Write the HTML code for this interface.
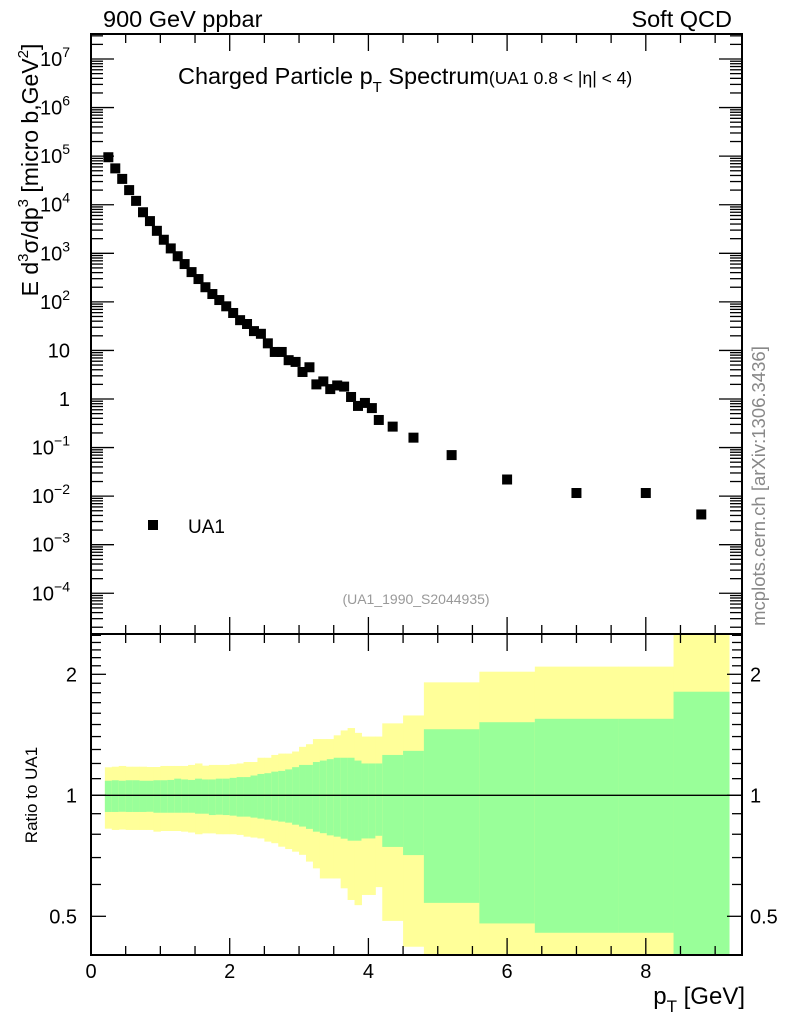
<!DOCTYPE html>
<html><head><meta charset="utf-8"><style>
body{margin:0;background:#fff;width:786px;height:1024px;overflow:hidden}
svg{display:block;font-family:"Liberation Sans",sans-serif}
</style></head><body>
<svg id="c" width="786" height="1024" viewBox="0 0 786 1024"></svg>
<script>
const binEdges=[0.2,0.3,0.4,0.5,0.6,0.7,0.8,0.9,1.0,1.1,1.2,1.3,1.4,1.5,1.6,1.7,1.8,1.9,2.0,2.1,2.2,2.3,2.4,2.5,2.6,2.7,2.8,2.9,3.0,3.1,3.2,3.3,3.4,3.5,3.6,3.7,3.8,3.9,4.0,4.1,4.2,4.5,4.8,5.6,6.4,7.6,8.4,9.2];
const ptX=[0.25,0.35,0.45,0.55,0.65,0.75,0.85,0.95,1.05,1.15,1.25,1.35,1.45,1.55,1.65,1.75,1.85,1.95,2.05,2.15,2.25,2.35,2.45,2.55,2.65,2.75,2.85,2.95,3.05,3.15,3.25,3.35,3.45,3.55,3.65,3.75,3.85,3.95,4.05,4.15,4.35,4.65,5.2,6.0,7.0,8.0,8.8];
const ua1Values=[95000,56000,34000,20000,12000,7000,4600,2900,1900,1260,870,600,410,295,200,145,109,81,59,42,35,25,22,14,9.3,9.3,6.3,5.8,3.6,4.5,2.0,2.3,1.6,1.9,1.8,1.1,0.72,0.83,0.65,0.37,0.27,0.16,0.07,0.022,0.0116,0.0116,0.0042];
const totUp=[1.174,1.178,1.183,1.178,1.178,1.178,1.176,1.176,1.183,1.183,1.183,1.183,1.19,1.2,1.185,1.19,1.19,1.19,1.195,1.2,1.21,1.21,1.24,1.24,1.26,1.27,1.27,1.285,1.32,1.34,1.38,1.38,1.38,1.41,1.45,1.47,1.43,1.40,1.40,1.40,1.51,1.58,1.91,2.03,2.09,2.09,3.0];
const totDn=[0.826,0.82,0.822,0.82,0.82,0.82,0.82,0.812,0.815,0.815,0.815,0.812,0.808,0.80,0.804,0.804,0.80,0.80,0.80,0.797,0.789,0.785,0.781,0.767,0.76,0.745,0.735,0.724,0.711,0.684,0.658,0.621,0.621,0.621,0.587,0.549,0.533,0.565,0.565,0.591,0.487,0.42,0.3,0.3,0.3,0.3,0.3];
const statUp=[1.087,1.09,1.087,1.09,1.09,1.087,1.087,1.09,1.09,1.092,1.10,1.095,1.092,1.10,1.095,1.095,1.10,1.10,1.105,1.11,1.11,1.12,1.13,1.135,1.145,1.15,1.16,1.175,1.19,1.19,1.21,1.22,1.23,1.24,1.24,1.24,1.22,1.20,1.20,1.20,1.26,1.29,1.46,1.52,1.55,1.55,1.81];
const statDn=[0.909,0.909,0.91,0.909,0.909,0.909,0.91,0.905,0.905,0.905,0.905,0.905,0.905,0.9,0.9,0.893,0.895,0.893,0.89,0.885,0.885,0.88,0.875,0.87,0.865,0.86,0.855,0.845,0.836,0.825,0.812,0.805,0.795,0.789,0.78,0.771,0.771,0.781,0.781,0.793,0.744,0.71,0.54,0.48,0.455,0.455,0.3];
const xTicks=[0,2,4,6,8];
const yDecades=[7,6,5,4,3,2,1,0,-1,-2,-3,-4];
const rTicks=[0.5,1,2];

const NS="http://www.w3.org/2000/svg", svg=document.getElementById('c');
function el(t,a,p){const e=document.createElementNS(NS,t);for(const k in a)e.setAttribute(k,a[k]);(p||svg).appendChild(e);return e;}
const L=91,R=742,T=34,MB=634,RB=955;
const X=v=>L+v*69.35;
const Y=v=>399-Math.log10(v)*48.57;
const RY=v=>795.3-Math.log2(v)*121;

const gB=el('g',{});  
const cp=el('clipPath',{id:'rc'}); el('rect',{x:L,y:MB,width:R-L,height:RB-MB},cp);
gB.setAttribute('clip-path','url(#rc)');
for(let i=0;i<ptX.length;i++){
  const x0=X(binEdges[i]),x1=X(binEdges[i+1]);
  const y1=el('rect',{x:x0,y:RY(totUp[i]),width:x1-x0+0.5,height:RY(totDn[i])-RY(totUp[i]),fill:'#ffff99'},gB);
  
  
  const g1=el('rect',{x:x0,y:RY(statUp[i]),width:x1-x0+0.5,height:RY(statDn[i])-RY(statUp[i]),fill:'#99ff99'},gB);
  
  
}
const one=el('line',{x1:L,x2:R,y1:RY(1),y2:RY(1),stroke:'#000','stroke-width':1.3});
 

for(let i=0;i<ptX.length;i++){
  const m=el('rect',{x:X(ptX[i])-5,y:Y(ua1Values[i])-5,width:10,height:10,fill:'#000'});
   
}

for(const [y0,y1,nm] of [[T,MB,'main-frame'],[MB,RB,'ratio-frame']]){
  const f=el('rect',{x:L,y:y0,width:R-L,height:y1-y0,fill:'none',stroke:'#000','stroke-width':2});
   
}
const tg=el('g',{stroke:'#000','stroke-width':1.3});
for(let v=0;v<=9.3;v+=0.5){
  const maj=Math.abs(v%2)<1e-6, x=X(v), l=maj?17:9;
  for(const [yb,dir] of [[T,1],[MB,-1],[MB,1],[RB,-1]]) el('line',{x1:x,x2:x,y1:yb,y2:yb+dir*l},tg);
}
xTicks.forEach(v=>{const t=el('text',{x:X(v),y:978,'font-size':20,'text-anchor':'middle'});t.textContent=v;
});
const lo=-4.88,hi=7.52;
for(let d=-5;d<=7;d++){for(let m=1;m<10;m++){const lv=d+Math.log10(m);if(lv<lo||lv>hi)continue;
 const y=399-lv*48.57,l=m==1?23:12;
 el('line',{x1:L,x2:L+l,y1:y,y2:y},tg);el('line',{x1:R,x2:R-l,y1:y,y2:y},tg);}}
yDecades.forEach(d=>{const y=399-d*48.57;const t=el('text',{x:70,y:y+7,'font-size':20,'text-anchor':'end'});
 if(d===1)t.textContent='10';else if(d===0)t.textContent='1';else{t.textContent='10';const s=el('tspan',{dy:-9,'font-size':14},t);s.textContent=(d<0?'\u2212':'')+Math.abs(d);}
 });
for(let v=0.4;v<=2.55;v+=0.1){const y=RY(v);if(y<MB||y>RB)continue;
 const maj=[0.5,1,2].some(q=>Math.abs(q-v)<1e-6),l=maj?15:10;
 el('line',{x1:L,x2:L+l,y1:y,y2:y},tg);el('line',{x1:R,x2:R-l,y1:y,y2:y},tg);}
rTicks.forEach(v=>{for(const [x,a] of [[77,'end'],[750,'start']]){const t=el('text',{x:x,y:RY(v)+7,'font-size':20,'text-anchor':a});t.textContent=v;
 }});

function txt(s,a,name){const t=el('text',a);t.innerHTML=s;return t;}
txt('900 GeV ppbar',{x:103,y:27,'font-size':23.5},'energy-label');
txt('Soft QCD',{x:732,y:27,'font-size':23.5,'text-anchor':'end'},'category-label');
txt('Charged Particle p<tspan dy="8" font-size="15">T</tspan><tspan dy="-8"> Spectrum</tspan><tspan font-size="17.5">(UA1 0.8 &lt; |η| &lt; 4)</tspan>',{x:178,y:84,'font-size':23.5},'plot-title');
const leg=el('rect',{x:148,y:520,width:10,height:10,fill:'#000'});
txt('UA1',{x:188,y:533,'font-size':19},'legend-entry');
txt('(UA1_1990_S2044935)',{x:416,y:604,'font-size':14,fill:'#999','text-anchor':'middle'},'analysis-id');
txt('E d<tspan dy="-10" font-size="15">3</tspan><tspan dy="10">σ/dp</tspan><tspan dy="-10" font-size="15">3</tspan><tspan dy="10"> [micro b,GeV</tspan><tspan dy="-10" font-size="15">2</tspan><tspan dy="10">]</tspan>',{x:0,y:0,'font-size':23,'text-anchor':'middle',transform:'translate(38,170) rotate(-90)'},'y-axis-title');
txt('Ratio to UA1',{x:0,y:0,'font-size':17,'text-anchor':'middle',transform:'translate(37,795) rotate(-90)'},'ratio-axis-title');
txt('p<tspan dy="8" font-size="17">T</tspan><tspan dy="-8"> [GeV]</tspan>',{x:745,y:1004,'font-size':24,'text-anchor':'end'},'x-axis-title');
txt('mcplots.cern.ch [arXiv:1306.3436]',{x:0,y:0,'font-size':18.5,fill:'#888','text-anchor':'middle',transform:'translate(765,486) rotate(-90)'},'watermark');
</script>
</body></html>
